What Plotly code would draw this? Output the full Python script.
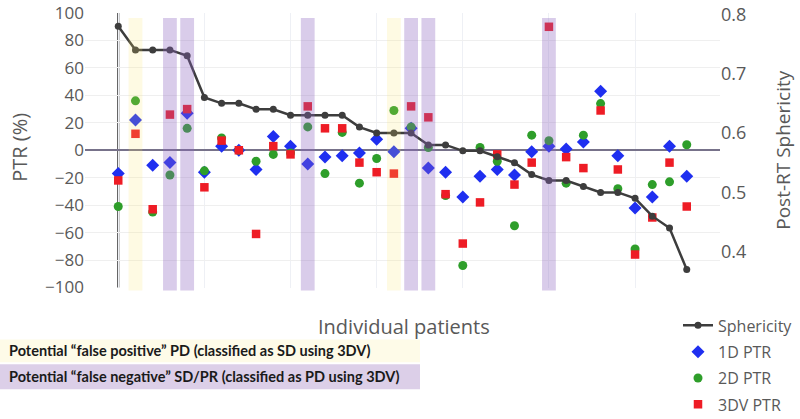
import plotly.graph_objects as go

# Patients ordered by post-RT sphericity
patients = list(range(1, 35))

sphericity = [0.78, 0.74, 0.74, 0.74, 0.73, 0.66, 0.65, 0.65, 0.64, 0.64,
              0.63, 0.63, 0.63, 0.63, 0.61, 0.60, 0.60, 0.60, 0.58, 0.58,
              0.57, 0.57, 0.56, 0.55, 0.53, 0.52, 0.52, 0.51, 0.50, 0.50,
              0.49, 0.46, 0.44, 0.37]

ptr_1d = [-17, 22, -11, -9, 27, -16, 3, 0, -14, 10,
          3, -10, -5, -4, -2, 8, -1, 16, -13, -16,
          -34, -19, -14, -18, -1, 3, 1, 6, 43, -4,
          -42, -34, 3, -19]

ptr_2d = [-41, 36, -45, -18, 16, -15, 9, 0, -8, -3,
          -2, 17, -17, 13, -24, -6, 29, 17, 2, -33,
          -84, 2, -8, -55, 11, 7, -24, 11, 34, -28,
          -72, -25, -23, 4]

ptr_3dv = [-22, 12, -43, 26, 30, -27, 7, 0, -61, 3,
           -3, 32, 16, 16, -9, -16, -17, 32, 24, -32,
           -68, -38, -3, -25, -9, 90, -5, -13, 29, -14,
           -76, -49, -9, -41]

# Highlighted patients
false_positive = [2, 17]
false_negative = [4, 5, 12, 18, 19, 26]

ptr_ticks = [100, 80, 60, 40, 20, 0, -20, -40, -60, -80, -100]
sph_ticks = [0.4, 0.5, 0.6, 0.7, 0.8]

grey_text = "#595959"
font_main = "Open Sans"

# pixel -> paper helpers (plot area 85..720 x 13..288.5)
def px(x):
	return (x - 85) / 635.0

def py(y):
	return (288.5 - y) / 275.5

fig = go.Figure()

# PTR scatter series
fig.add_trace(go.Scatter(
	x=patients, y=ptr_1d, mode="markers", name="1D PTR",
	marker=dict(symbol="diamond", size=10, color="#1f2ff0"),
	legendrank=2, legendgroup="a",
))
fig.add_trace(go.Scatter(
	x=patients, y=ptr_2d, mode="markers", name="2D PTR",
	marker=dict(symbol="circle", size=9, color="#2e9e2a"),
	legendrank=3, legendgroup="b",
))
fig.add_trace(go.Scatter(
	x=patients, y=ptr_3dv, mode="markers", name="3DV PTR",
	marker=dict(symbol="square", size=8.5, color="#ee1c25"),
	legendrank=4, legendgroup="c",
))

# Sphericity line on secondary axis
fig.add_trace(go.Scatter(
	x=patients, y=sphericity, mode="lines+markers", name="Sphericity",
	line=dict(color="#3d3d3d", width=2.5),
	marker=dict(symbol="circle", size=7, color="#3d3d3d"),
	yaxis="y2", legendrank=1, legendgroup="d",
))

# Shaded bands for the flagged patients (drawn over the markers)
shapes = []
for p in false_positive:
	shapes.append(dict(
		type="rect", xref="x", yref="paper",
		x0=p - 0.4, x1=p + 0.4, y0=py(291), y1=py(18),
		fillcolor="rgba(250,230,100,0.18)", line=dict(width=0), layer="above",
	))
for p in false_negative:
	shapes.append(dict(
		type="rect", xref="x", yref="paper",
		x0=p - 0.4, x1=p + 0.4, y0=py(291), y1=py(18),
		fillcolor="rgba(140,100,190,0.33)", line=dict(width=0), layer="above",
	))

# Vertical axis line at first patient
shapes.append(dict(
	type="line", xref="x", yref="y", x0=1, x1=1, y0=-100, y1=100,
	line=dict(color="#333333", width=2), layer="below",
))

# Explanation boxes under the chart
shapes.append(dict(
	type="rect", xref="paper", yref="paper",
	x0=px(0), x1=px(420), y0=py(363), y1=py(340),
	fillcolor="#fefbe8", line=dict(width=0),
))
shapes.append(dict(
	type="rect", xref="paper", yref="paper",
	x0=px(0), x1=px(420), y0=py(390), y1=py(365),
	fillcolor="#dccfe8", line=dict(width=0),
))

annotations = [
	dict(text="Individual patients", xref="paper", yref="paper",
		x=px(404), y=py(327), xanchor="center", yanchor="middle", showarrow=False,
		font=dict(family=font_main, size=20, color=grey_text)),
	dict(text="PTR (%)", xref="paper", yref="paper", textangle=-90,
		x=px(20), y=py(148), xanchor="center", yanchor="middle", showarrow=False,
		font=dict(family=font_main, size=20, color=grey_text)),
	dict(text="Post-RT Sphericity", xref="paper", yref="paper", textangle=-90,
		x=px(783), y=py(150), xanchor="center", yanchor="middle", showarrow=False,
		font=dict(family=font_main, size=19, color=grey_text)),
	dict(text="<b>Potential \u201cfalse positive\u201d PD (classified as SD using 3DV)</b>",
		xref="paper", yref="paper", xanchor="left", yanchor="middle",
		x=px(7), y=py(351.5), showarrow=False,
		font=dict(family="Lato", size=14.5, color="#1a1a1a")),
	dict(text="<b>Potential \u201cfalse negative\u201d SD/PR (classified as PD using 3DV)</b>",
		xref="paper", yref="paper", xanchor="left", yanchor="middle",
		x=px(7), y=py(377.5), showarrow=False,
		font=dict(family="Lato", size=14.5, color="#1a1a1a")),
]

fig.update_layout(
	width=800, height=419,
	margin=dict(l=85, r=80, t=13, b=130.5, autoexpand=False),
	plot_bgcolor="white", paper_bgcolor="white",
	shapes=shapes, annotations=annotations,
	font=dict(family=font_main, color=grey_text),
	legend=dict(
		x=px(678), y=py(309), xanchor="left", yanchor="top",
		font=dict(family=font_main, size=16, color=grey_text),
		tracegroupgap=2.5, bgcolor="rgba(0,0,0,0)",
	),
	xaxis=dict(
		range=[-0.93, 35.93], tick0=1, dtick=5,
		showticklabels=False, showgrid=True, gridcolor="#eef0f5",
		zeroline=False, showline=False, ticks="",
	),
	yaxis=dict(
		range=[-100.4, 100.05], tickvals=ptr_ticks,
		showgrid=True, gridcolor="#efefef",
		zeroline=True, zerolinecolor="#77728a", zerolinewidth=1.5,
		tickfont=dict(family=font_main, size=17, color=grey_text),
		ticklabeloverflow="allow",
		showline=False, ticks="",
	),
	yaxis2=dict(
		overlaying="y", side="right",
		range=[0.339, 0.8022], tickvals=sph_ticks,
		showgrid=False, zeroline=False, showline=False, ticks="",
		tickfont=dict(family=font_main, size=18, color=grey_text),
		ticklabeloverflow="allow",
	),
)

# drop the browser's default page margin so the figure sits at the corner
fig.write_html("out.html", config={"displayModeBar": False},
	post_script="document.body.style.margin = '0';")
